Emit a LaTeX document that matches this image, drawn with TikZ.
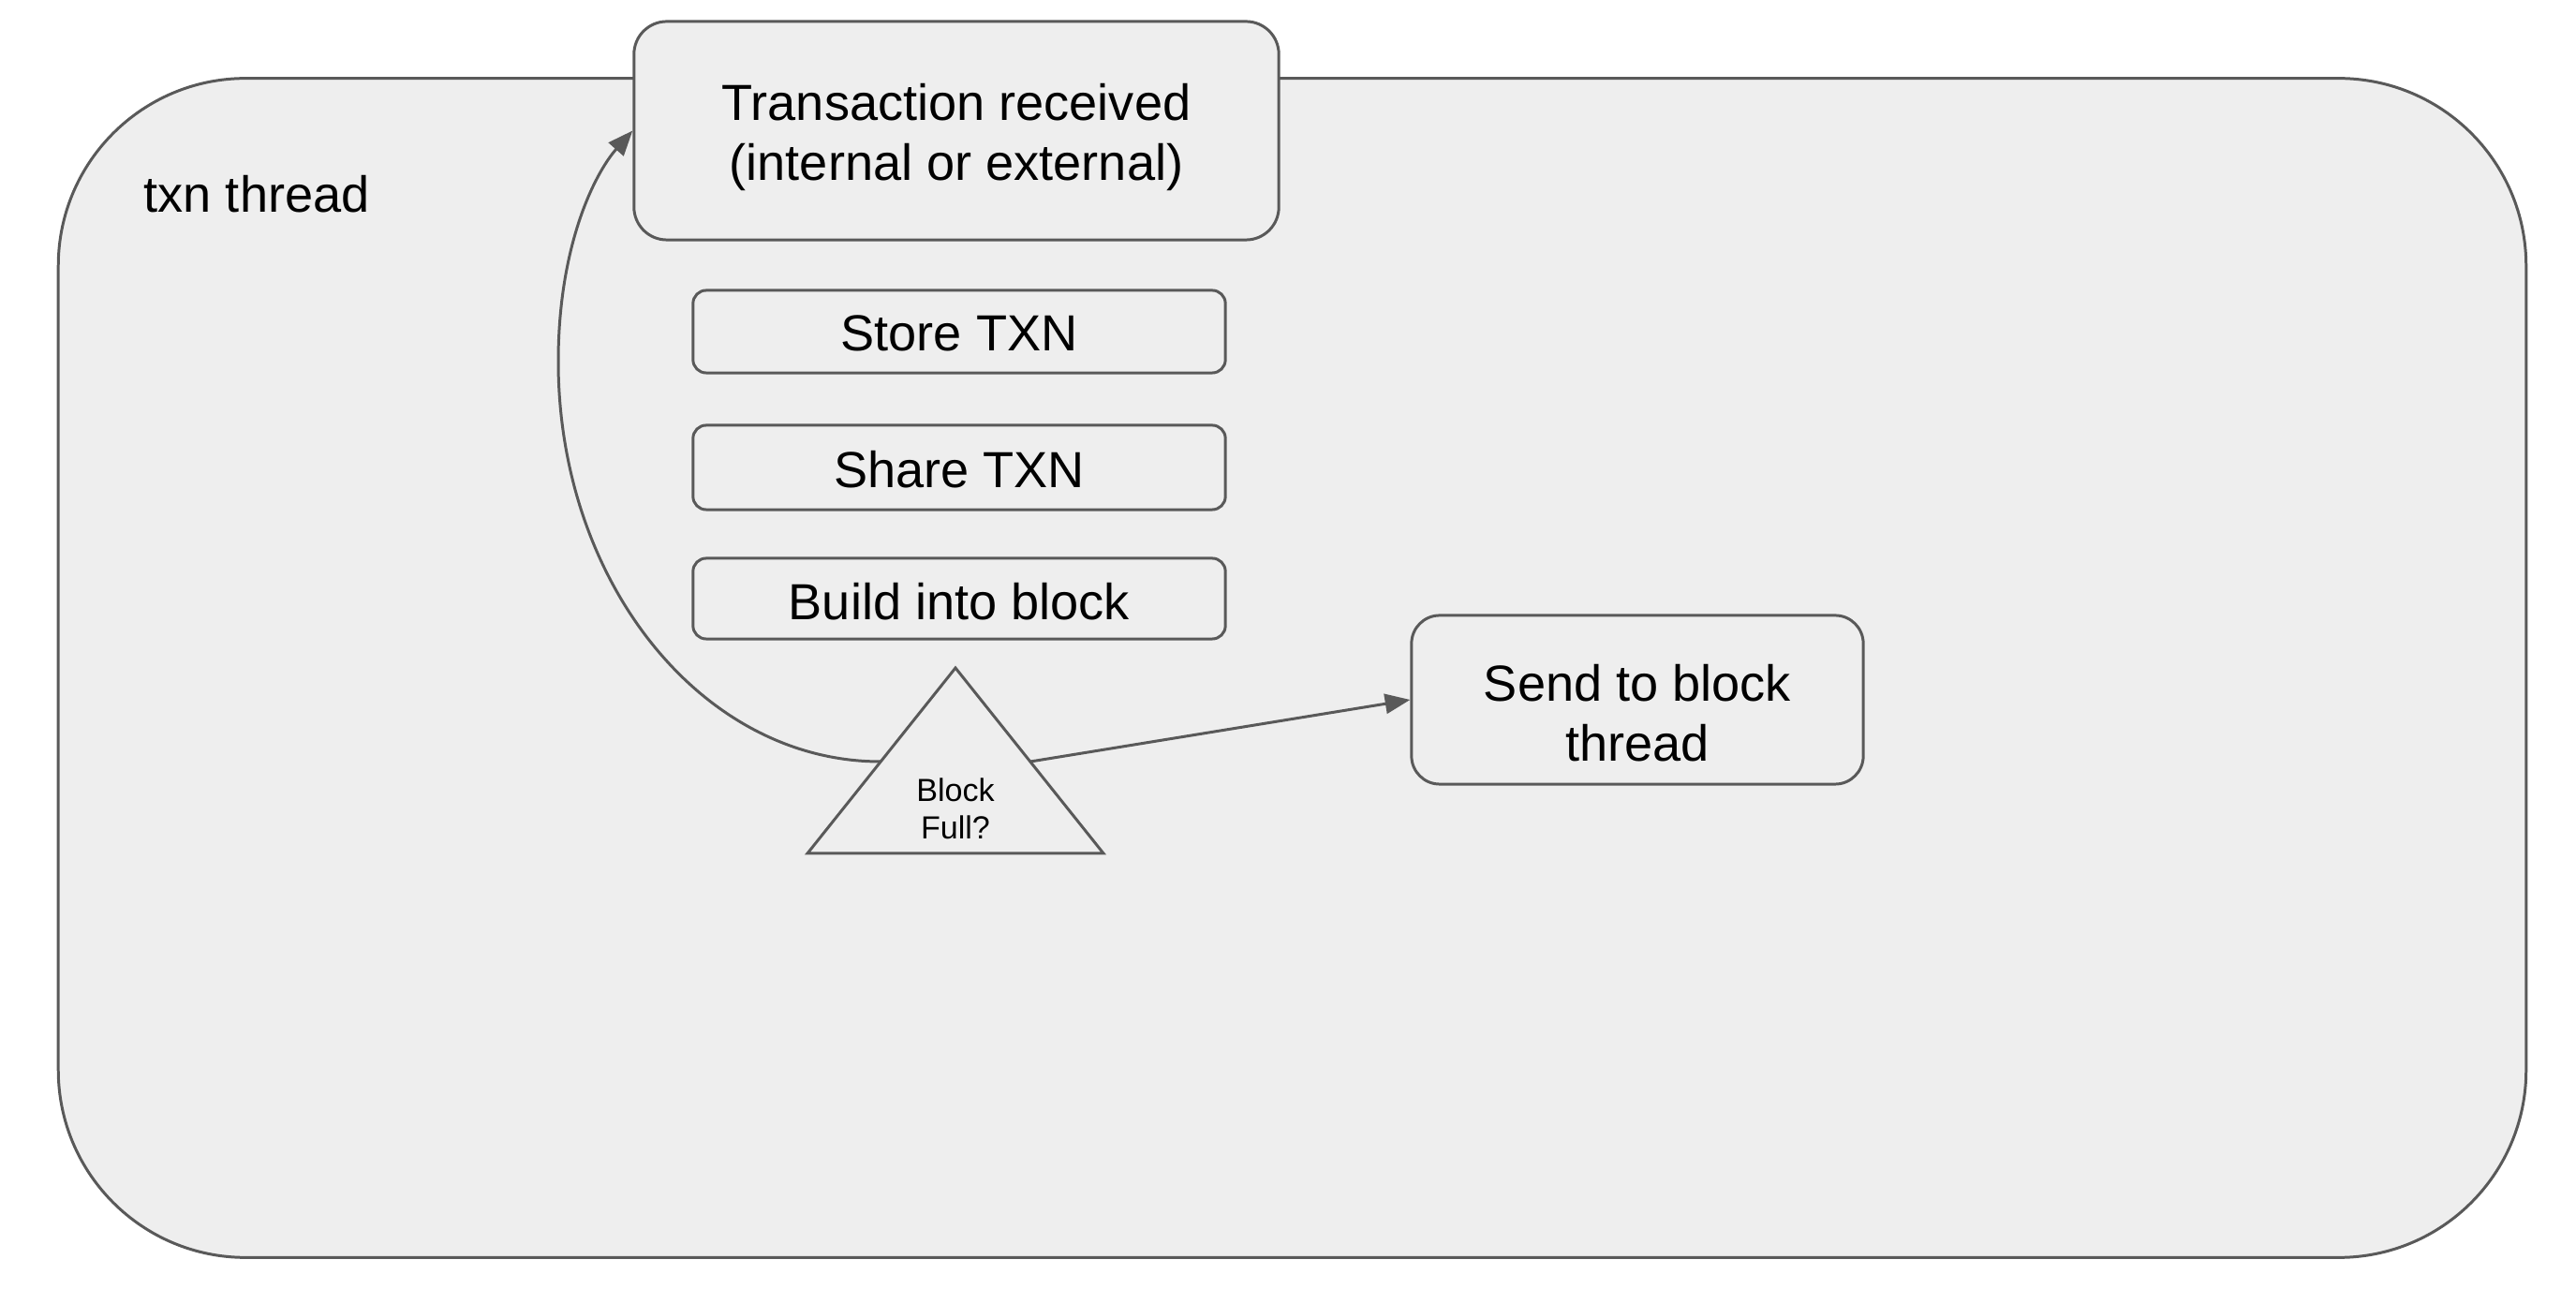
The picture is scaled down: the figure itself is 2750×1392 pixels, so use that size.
\documentclass[tikz,border=0pt]{standalone}
\usepackage{fontspec}
\setmainfont{Liberation Sans}
\usetikzlibrary{arrows.meta,calc}
\definecolor{linec}{HTML}{595959}
\definecolor{boxfill}{HTML}{EEEEEE}
\tikzset{
  bigfont/.style={font=\fontsize{15.4}{18.2}\selectfont},
  container/.style={draw=linec, fill=boxfill, line width=0.85pt, rounded corners=2cm, inner sep=0pt},
  procbox/.style={draw=linec, fill=boxfill, line width=0.85pt, inner sep=0pt},
  boxtext/.style={align=center, text=black, inner sep=0pt, bigfont},
  conn/.style={draw=linec, line width=0.85pt, -{Triangle[length=7.6pt,width=6pt]}},
}
\begin{document}
\begin{tikzpicture}[x=0.01cm, y=-0.01cm]
\path[use as bounding box, fill=white] (0,0) rectangle (2750,1392);
% outer container
\node[container, minimum width=26.33cm, minimum height=12.58cm] (outer) at (1379.5,713) {};
\node[anchor=base west, bigfont, inner sep=0pt] (lbl) at (153,227) {txn thread};
% boxes
\node[procbox, rounded corners=0.35cm, minimum width=6.88cm, minimum height=2.33cm] (recv) at (1021,139.5) {};
\node[boxtext] (recvt) at ($(recv.center)+(0,7)$) {Transaction received\\(internal or external)};
\node[procbox, rounded corners=0.14cm, minimum width=5.68cm, minimum height=0.88cm] (store) at (1024,354) {};
\node[boxtext] (storet) at ($(store.center)+(0,2)$) {Store TXN};
\node[procbox, rounded corners=0.14cm, minimum width=5.68cm, minimum height=0.90cm] (share) at (1024,499) {};
\node[boxtext] (sharet) at ($(share.center)+(0,2)$) {Share TXN};
\node[procbox, rounded corners=0.14cm, minimum width=5.68cm, minimum height=0.86cm] (build) at (1024,639) {};
\node[boxtext] (buildt) at ($(build.center)+(0,3)$) {Build into block};
\node[procbox, rounded corners=0.30cm, minimum width=4.82cm, minimum height=1.80cm] (send) at (1748,747) {};
\node[boxtext] (sendt) at ($(send.center)+(0,14)$) {Send to block\\thread};
% triangle
\coordinate (apex) at (1020,713);
\coordinate (bl) at (862,911);
\coordinate (br) at (1178,911);
\draw[draw=linec, fill=boxfill, line width=0.85pt, line join=miter] (apex) -- (br) -- (bl) -- cycle;
\node[align=center, inner sep=0pt, font=\fontsize{9.7}{11.4}\selectfont] (full) at (1020,863) {Block\\Full?};
\coordinate (tl) at (940,813);
\coordinate (tr) at (1100,813);
\coordinate (lm) at (596,386);
% connectors
\draw[conn] (tl) .. controls (749,813) and (596,621) .. (lm) .. controls (596,262) and (635,185) .. (recv.west);
\draw[conn] (tr) -- (send.west);
\end{tikzpicture}
\end{document}
